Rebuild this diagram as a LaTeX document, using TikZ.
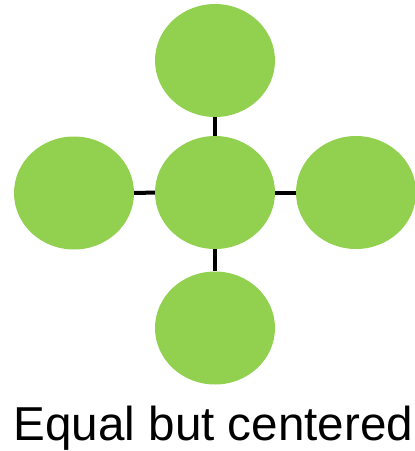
\documentclass[tikz,border=0pt]{standalone}
\usepackage{fontspec}
\setmainfont{Liberation Sans}
\usetikzlibrary{shapes.geometric}
\definecolor{leafgreen}{HTML}{92D050}
\begin{document}
\begin{tikzpicture}[x=1pt, y=1pt]
		\useasboundingbox (0,0) rectangle (415,-451);

		\tikzset{blob/.style={ellipse, fill=leafgreen, minimum width=120pt, minimum height=113pt, inner sep=0pt}}

		\begin{scope}
			\node[blob] (c) at (215,-192.5) {};
			\node[blob] (t) at (215,-60.5) {};
			\node[blob] (l) at (74,-193) {};
			\node[blob] (r) at (356,-192.5) {};
			\node[blob] (b) at (215,-328) {};

			\draw[line width=4pt] (c) -- (t);
			\draw[line width=4pt] (c) -- (l);
			\draw[line width=4pt] (c) -- (r);
			\draw[line width=4pt] (c) -- (b);
		\end{scope}

		\node[anchor=base, font=\fontsize{47.6}{56}\selectfont, inner sep=0pt] (cap) at (213.5,-440) {Equal but centered};

	\end{tikzpicture}
\end{document}
